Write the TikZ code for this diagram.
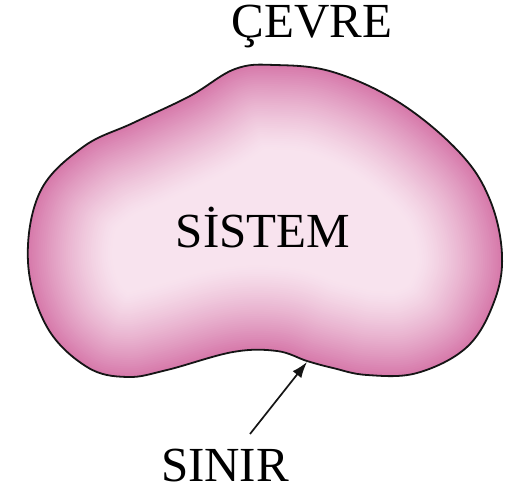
\documentclass[tikz,border=0pt]{standalone}
\usepackage{fontspec}
\setmainfont{Liberation Serif}
\usetikzlibrary{arrows.meta}
\definecolor{pinkD}{HTML}{D77AAB}
\definecolor{pinkL}{HTML}{F8E3EE}
\definecolor{lineC}{HTML}{151515}
\tikzset{
  lbl/.style={font=\fontsize{49}{56}\selectfont, text=black, anchor=base, inner sep=0pt},
  outline/.style={draw=lineC, line width=1.8pt},
  pointer/.style={-{Latex[length=16pt,width=11pt]}, line width=1.7pt, draw=lineC}
}
\begin{document}
\begin{tikzpicture}[x=1pt,y=-1pt]
\useasboundingbox (0,0) rectangle (507,492);
\path[save path=\blobsaved] plot[smooth cycle, tension=0.62] coordinates {
 (28,262) (40,192) (83,147) (133,123) (190,96) (235,69) (275,65) (333,72)
 (400,103) (460,153) (490,200) (502,255) (494,302) (467,347) (417,373)
 (367,375) (333,368) (307,361) (277,351) (233,352) (167,370) (127,377)
 (87,367) (47,327)};
\begin{scope}
  \path[clip, use path=\blobsaved];
  \fill[pinkL, use path=\blobsaved];
  \foreach \i in {0,...,40} {
    \pgfmathsetmacro{\pc}{100*(\i/40)^1.3}
    \draw[line width={(41-\i)*4.2pt}, line join=round, color=pinkD!\pc!pinkL, use path=\blobsaved];
  }
\end{scope}
\path[outline, use path=\blobsaved];
\node[lbl] (cevre) at (312,38) {ÇEVRE};
\node[lbl] (sistem) at (263,248) {SİSTEM};
\node[lbl] (sinir) at (225,481) {SINIR};
\coordinate (tip) at (307,362);
\coordinate (tail) at (250,434);
\draw[pointer] (tail) -- (tip);
\end{tikzpicture}
\end{document}
